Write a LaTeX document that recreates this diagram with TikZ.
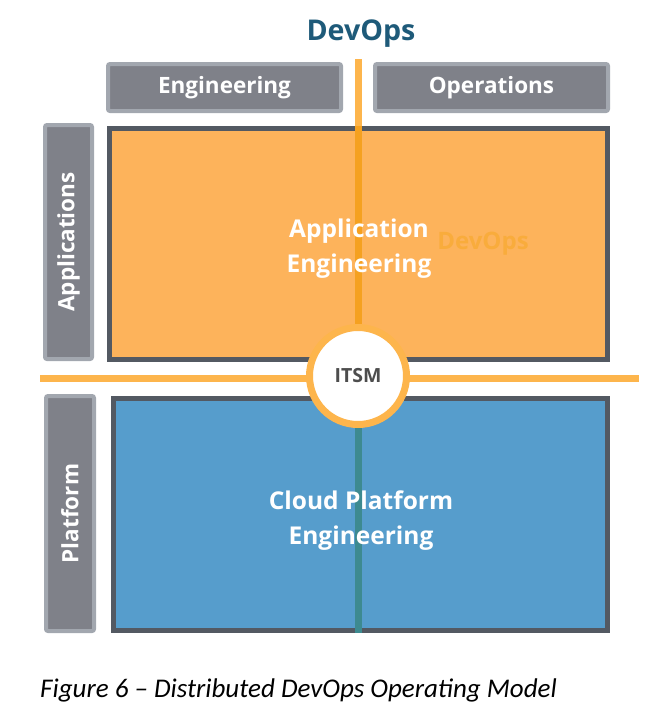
\documentclass[tikz,border=0pt]{standalone}
\usepackage{fontspec}
\setmainfont{Open Sans}
\newfontfamily\capfont[Ligatures=TeX]{Carlito}
\usepackage{xcolor}
\usetikzlibrary{positioning}

\definecolor{bargray}{HTML}{7F8189}
\definecolor{barline}{HTML}{A2A7AF}
\definecolor{boxline}{HTML}{535962}
\definecolor{apporange}{HTML}{FDB35B}
\definecolor{cloudblue}{HTML}{569DCC}
\definecolor{lineorange}{HTML}{FDB54C}
\definecolor{deeporange}{HTML}{F5A120}
\definecolor{tealline}{HTML}{3D8A90}
\definecolor{titleblue}{HTML}{1E5A79}
\definecolor{itsmgray}{HTML}{4D4D4D}
\definecolor{ghostorange}{HTML}{F9AC3C}

\pgfdeclarelayer{areas}
\pgfdeclarelayer{lines}
\pgfsetlayers{areas,lines,main}

\begin{document}
\begin{tikzpicture}[x=1pt, y=-1pt,
    headbar/.style={draw=barline, fill=bargray, line width=4pt, rounded corners=2pt,
        inner sep=0pt, text=white, font=\fontsize{22.5}{26}\selectfont\bfseries},
    zone/.style={draw=boxline, line width=5pt, inner sep=0pt},
    zonetext/.style={text=white, align=center, font=\fontsize{24.5}{35}\selectfont\bfseries},
    divider/.style={line width=7pt}]
    \useasboundingbox (0, 0) rectangle (652, 724);
    % title and headers
    \node[text=titleblue, font=\fontsize{28.6}{32}\selectfont\bfseries] (devops) at (361, 34) {DevOps};
    \node[headbar, minimum width=233pt, minimum height=47pt] (eng) at (224.5, 87.5) {Engineering};
    \node[headbar, minimum width=233pt, minimum height=47pt] (ops) at (491.5, 87.5) {Operations};
    % side bars
    \node[headbar, rotate=90, minimum width=234pt, minimum height=47pt] (apps) at (68.5, 242) {Applications};
    \node[headbar, rotate=90, minimum width=235pt, minimum height=48pt] (plat) at (70, 513.5) {Platform};
    % areas
    \begin{pgfonlayer}{areas}
    \node[zone, fill=apporange, minimum width=498pt, minimum height=231pt] (app) at (358.5, 244) {};
    \node[zone, fill=cloudblue, minimum width=494pt, minimum height=232pt] (cloud) at (360.5, 514.5) {};
    \end{pgfonlayer}
    \node[text=ghostorange, font=\fontsize{24}{28}\selectfont\bfseries] (ghost) at (483, 244) {DevOps};
    % ITSM and dividers
    \node[circle, draw=lineorange, fill=white, line width=7pt, minimum size=97pt, inner sep=0pt,
        text=itsmgray, font=\fontsize{19.5}{22}\selectfont\bfseries] (itsm) at (358, 376) {ITSM};
    \coordinate (vtop) at (358, 59);
    \coordinate (hl) at (40, 378);
    \coordinate (hr) at (639, 378);
    \begin{pgfonlayer}{lines}
    \draw[divider, lineorange] (vtop) -- (vtop |- app.north);
    \draw[divider, deeporange] (vtop |- app.north) -- (itsm.center);
    \draw[divider, tealline] (itsm.center) -- (itsm.center |- cloud.south);
    \draw[divider, lineorange] (hl) -- (hr);
    \end{pgfonlayer}
    % area labels
    \node[zonetext] (applabel) at (359, 249) {Application\\Engineering};
    \node[zonetext] (cloudlabel) at (361, 521) {Cloud Platform\\Engineering};
    % caption
    \node[anchor=base west, inner sep=0pt, font=\capfont\itshape\fontsize{27}{32}\selectfont] (caption)
        at (40, 697) {Figure 6 -- Distributed DevOps Operating Model};
\end{tikzpicture}
\end{document}
